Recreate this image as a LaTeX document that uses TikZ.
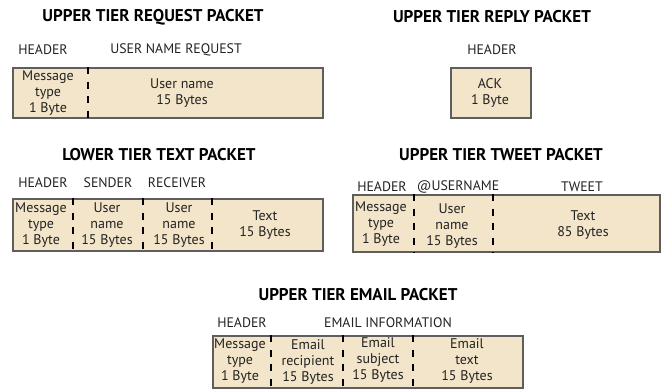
\documentclass[tikz,border=0pt]{standalone}
\usepackage{fontspec}
\setmainfont{PT Sans}
\definecolor{cellfill}{HTML}{F3E5C9}
\definecolor{frame}{HTML}{5E5E5E}
\definecolor{ink}{HTML}{222222}
\tikzset{
  x=1pt, y=-1pt,
  packet/.style={draw=frame, line width=2.4pt, fill=cellfill, anchor=north west, inner sep=0pt},
  divider/.style={draw=black, line width=2pt, dash pattern=on 7pt off 7.5pt},
  celltext/.style={align=center, text=ink, font=\fontsize{14}{15.8}\selectfont, inner sep=0pt},
  fieldlabel/.style={text=ink, font=\fontsize{13.8}{15}\selectfont, inner sep=0pt},
  title/.style={text=black, font=\bfseries\fontsize{17}{18}\selectfont, inner sep=0pt}
}
\begin{document}
\begin{tikzpicture}
\useasboundingbox (0,0) rectangle (661,389);

% ---------- Upper tier request packet ----------
\node[title] (t1) at (153,17) {UPPER TIER REQUEST PACKET};
\node[fieldlabel] (l1a) at (43,50) {HEADER};
\node[fieldlabel] (l1b) at (176,50) {USER NAME REQUEST};
\node[packet, minimum width=310pt, minimum height=50pt] (req) at (12,67) {};
\draw[divider] (req.north -| 88,0) -- (req.south -| 88,0);
\node[celltext] (r1) at (48,93) {Message\\type\\1 Byte};
\node[celltext] (r2) at (182,93) {User name\\15 Bytes};

% ---------- Upper tier reply packet ----------
\node[title] (t2) at (492,17) {UPPER TIER REPLY PACKET};
\node[fieldlabel] (l2a) at (492,50) {HEADER};
\node[packet, minimum width=80pt, minimum height=50pt] (rep) at (450,67) {};
\node[celltext] (p1) at (490,93) {ACK\\1 Byte};

% ---------- Lower tier text packet ----------
\node[title] (t3) at (159,155) {LOWER TIER TEXT PACKET};
\node[fieldlabel] (l3a) at (43,183) {HEADER};
\node[fieldlabel] (l3b) at (108,183) {SENDER};
\node[fieldlabel] (l3c) at (177,183) {RECEIVER};
\node[packet, minimum width=310pt, minimum height=52pt] (txt) at (12,198) {};
\draw[divider] (txt.north -| 73,0) -- (txt.south -| 73,0);
\draw[divider] (txt.north -| 143,0) -- (txt.south -| 143,0);
\draw[divider] (txt.north -| 212,0) -- (txt.south -| 212,0);
\node[celltext] (x1) at (41,225) {Message\\type\\1 Byte};
\node[celltext] (x2) at (107,225) {User\\name\\15 Bytes};
\node[celltext] (x3) at (179,225) {User\\name\\15 Bytes};
\node[celltext] (x4) at (265,225) {Text\\15 Bytes};

% ---------- Upper tier tweet packet ----------
\node[title] (t4) at (501,155) {UPPER TIER TWEET PACKET};
\node[fieldlabel] (l4a) at (382,187) {HEADER};
\node[fieldlabel] (l4b) at (458,187) {@USERNAME};
\node[fieldlabel] (l4c) at (582,187) {TWEET};
\node[packet, minimum width=307pt, minimum height=57pt] (twt) at (352,194) {};
\draw[divider] (twt.north -| 414,0) -- (twt.south -| 414,0);
\draw[divider] (twt.north -| 493,0) -- (twt.south -| 493,0);
\node[celltext] (w1) at (381,224) {Message\\type\\1 Byte};
\node[celltext] (w2) at (452,226) {User\\name\\15 Bytes};
\node[celltext] (w3) at (583,225) {Text\\85 Bytes};

% ---------- Upper tier email packet ----------
\node[title] (t5) at (358,295) {UPPER TIER EMAIL PACKET};
\node[fieldlabel] (l5a) at (242,323) {HEADER};
\node[fieldlabel] (l5b) at (388,323) {EMAIL INFORMATION};
\node[packet, minimum width=310pt, minimum height=52pt] (eml) at (212,335) {};
\draw[divider] (eml.north -| 271,0) -- (eml.south -| 271,0);
\draw[divider] (eml.north -| 343,0) -- (eml.south -| 343,0);
\draw[divider] (eml.north -| 413,0) -- (eml.south -| 413,0);
\node[celltext] (e1) at (240,361) {Message\\type\\1 Byte};
\node[celltext] (e2) at (308,362) {Email\\recipient\\15 Bytes};
\node[celltext] (e3) at (378,360) {Email\\subject\\15 Bytes};
\node[celltext] (e4) at (467,361) {Email\\text\\15 Bytes};
\end{tikzpicture}
\end{document}
